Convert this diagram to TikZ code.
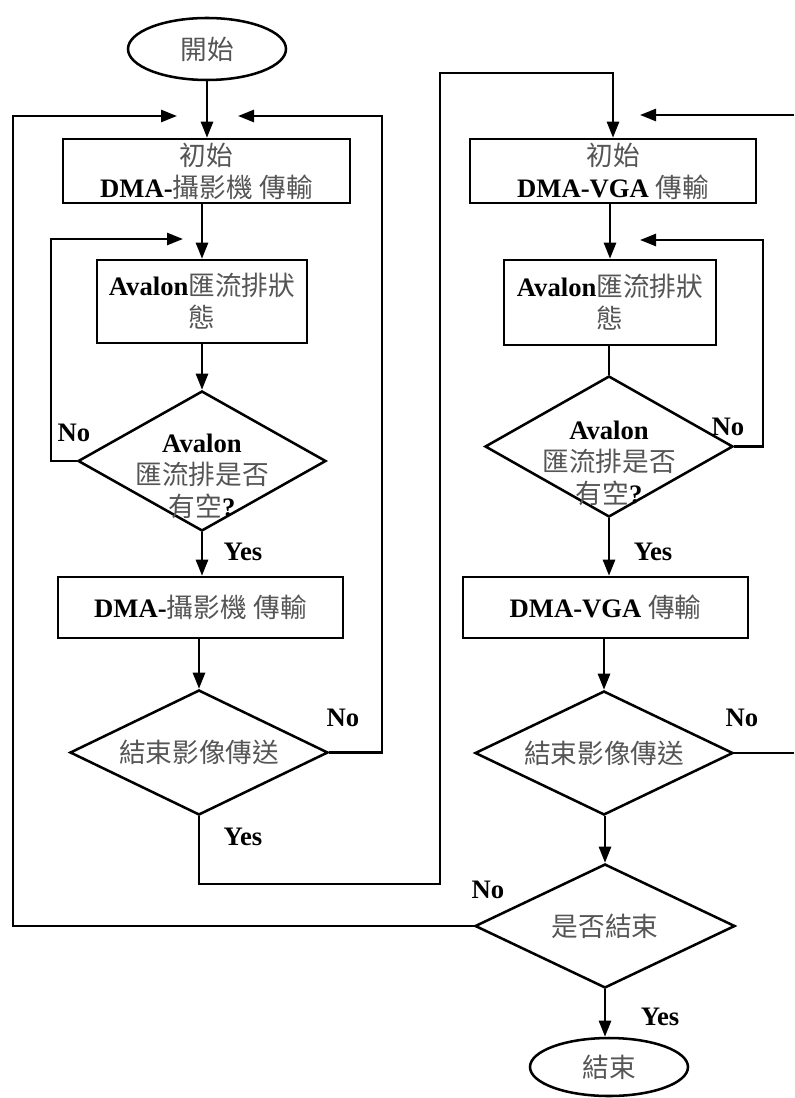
\documentclass[tikz,border=0pt]{standalone}
\usepackage{fontspec}
\setmainfont{Liberation Serif}
\newfontfamily\cjk{Noto Sans CJK TC}
\usetikzlibrary{shapes.geometric,arrows.meta}
\definecolor{zhgray}{RGB}{85,85,85}
\newcommand{\zh}[1]{{\cjk\mdseries\color{zhgray}#1}}
\begin{document}
\begin{tikzpicture}[x=0.75pt,y=-0.75pt, line width=1.9pt,
  every node/.style={font=\fontsize{20}{24}\selectfont\bfseries},
  box/.style={draw, rectangle, inner sep=0pt, align=center},
  dia/.style={draw, diamond, inner sep=0pt},
  term/.style={draw, ellipse, inner sep=0pt, minimum width=118.5pt, minimum height=46.5pt},
  txt/.style={align=center, inner sep=0pt},
  lab/.style={inner sep=0pt},
  arr/.style={-{Triangle[length=12pt,width=9pt]}}]
\useasboundingbox (0,0) rectangle (794,1098);

% left column
\node[term] (start) at (207,49) {\zh{開始}};
\node[box, minimum width=215.25pt, minimum height=48pt] (b1) at (206.5,171) {\zh{初始}\\DMA-\zh{攝影機} \zh{傳輸}};
\node[box, minimum width=157.5pt, minimum height=62.25pt] (b2) at (202,301.5) {Avalon\zh{匯流排狀}\\\zh{態}};
\node[dia, minimum width=186pt, minimum height=105pt] (d1) at (202,461) {};
\node[txt] (d1t) at (202,476) {Avalon\\\zh{匯流排是否}\\\zh{有空}?};
\node[box, minimum width=213.75pt, minimum height=45.75pt] (b3) at (200.5,607.5) {DMA-\zh{攝影機} \zh{傳輸}};
\node[dia, minimum width=193.5pt, minimum height=93.75pt] (d2) at (199,752.5) {};
\node[txt] (d2t) at (d2) {\zh{結束影像傳送}};

% right column
\node[box, minimum width=214.5pt, minimum height=48pt] (b4) at (613,171) {\zh{初始}\\DMA-VGA \zh{傳輸}};
\node[box, minimum width=159pt, minimum height=63.75pt] (b5) at (610,302.5) {Avalon\zh{匯流排狀}\\\zh{態}};
\node[dia, minimum width=186pt, minimum height=105.75pt] (d4) at (609,446.5) {};
\node[txt] (d4t) at (609,463) {Avalon\\\zh{匯流排是否}\\\zh{有空}?};
\node[box, minimum width=213.75pt, minimum height=45.75pt] (b6) at (605.5,607.5) {DMA-VGA \zh{傳輸}};
\node[dia, minimum width=193.5pt, minimum height=93pt] (d5) at (604,753) {};
\node[txt] (d5t) at (d5) {\zh{結束影像傳送}};
\node[dia, minimum width=195pt, minimum height=93pt] (d3) at (605,926) {};
\node[txt] (d3t) at (d3) {\zh{是否結束}};
\node[term, minimum height=43.5pt] (end) at (609,1067) {\zh{結束}};

% free ends
\coordinate (tL) at (177,116);
\coordinate (tR) at (238,116);
\coordinate (tI) at (183,239);
\coordinate (ty) at (0,73);
\coordinate (eR1) at (794,115);
\coordinate (tR2) at (640,115);
\coordinate (tI2) at (640,240);
\coordinate (eR2) at (794,753);

% connectors left
\draw[arr] (start) -- (start |- b1.north);
\draw[arr] (b2.north |- b1.south) -- (b2.north);
\draw[arr] (b2.south) -- (d1.north);
\draw[arr] (d1.south) -- (d1.south |- b3.north);
\draw[arr] (b3.south -| d2.north) -- (d2.north);
\draw[arr] (d1.west) -| (51,239) -- (tI);
\draw[arr] (d2.east) -| (382,116) -- (tR);
\draw[arr] (d3.west) -| (13,116) -- (tL);
\draw[arr] (d2.south) |- (440,884) |- (b4.north |- ty) -- (b4.north);

% connectors right
\draw[arr] (eR1) -- (tR2);
\draw[arr] (b4.south -| b5.north) -- (b5.north);
\draw (b5.south -| d4.north) -- (d4.north);
\draw[arr] (d4.east) -| (763,240) -- (tI2);
\draw[arr] (d4.south) -- (d4.south |- b6.north);
\draw[arr] (b6.south -| d5.north) -- (d5.north);
\draw (d5.east) -- (eR2);
\draw[arr] (d5.south -| d3.north) -- (d3.north);
\draw[arr] (d3.south) -- (d3.south |- end.north);

% labels
\node[lab] (n1) at (74,433) {No};
\node[lab] (y1) at (243,552) {Yes};
\node[lab] (n2) at (343,718) {No};
\node[lab] (y2) at (243,837) {Yes};
\node[lab] (n3) at (728,427) {No};
\node[lab] (y3) at (653,552) {Yes};
\node[lab] (n4) at (742,718) {No};
\node[lab] (n5) at (488,890) {No};
\node[lab] (y4) at (660,1017) {Yes};
\end{tikzpicture}
\end{document}
